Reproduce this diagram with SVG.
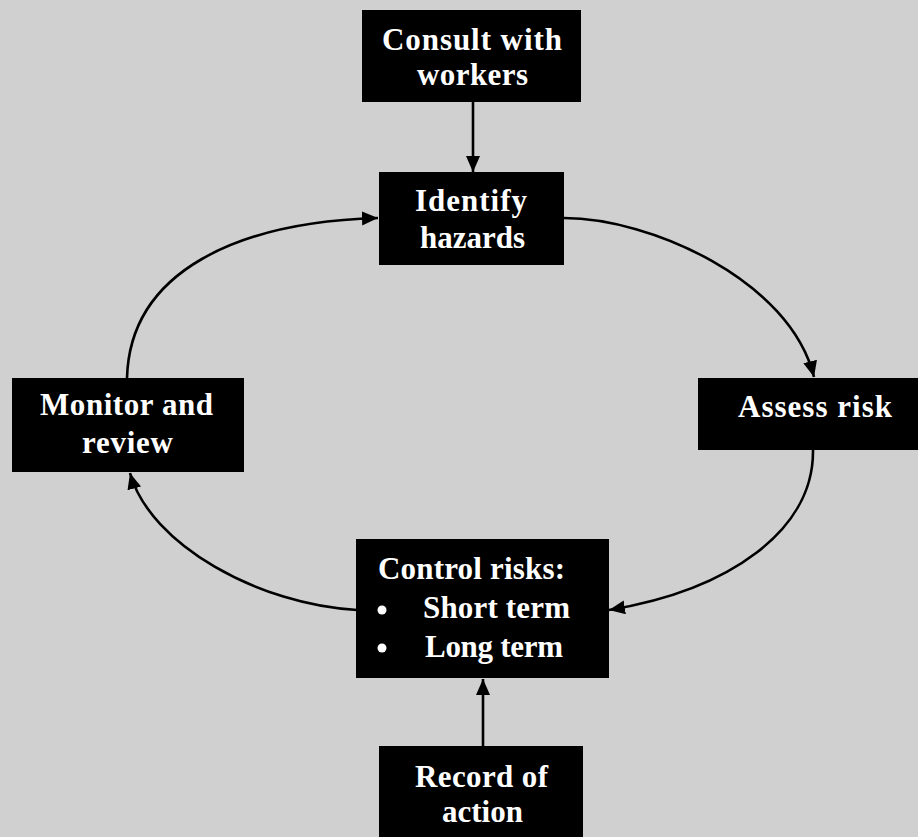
<svg xmlns="http://www.w3.org/2000/svg" width="918" height="837" viewBox="0 0 918 837">
  <style>
    .box { fill: #000; }
    .lbl { fill: #fff; font-family: "Liberation Serif", "DejaVu Serif", serif; font-weight: bold; font-size: 31px; }
    .conn { fill: none; stroke: #000; stroke-width: 2.6; marker-end: url(#ah); }
  </style>
  <defs>
    <marker id="ah" markerUnits="userSpaceOnUse" markerWidth="18" markerHeight="16" refX="16" refY="7" orient="auto">
      <path d="M0,0 L16,7 L0,14 z" fill="#000"/>
    </marker>
  </defs>
  <rect x="0" y="0" width="918" height="837" fill="#d0d0d0"/>

  <g id="connectors">
    <path class="conn" d="M473,102 L473,172"/>
    <path class="conn" d="M483,746 L483,679"/>
    <path class="conn" d="M564,218 C650,218 790,280 814,377"/>
    <path class="conn" d="M813,450 C814,530 730,590 609,610"/>
    <path class="conn" d="M357,610 C260,605 150,545 130,473"/>
    <path class="conn" d="M127,378 C130,270 240,222 378,218"/>
  </g>

  <g id="consult">
    <rect class="box" x="362" y="10" width="219" height="92"/>
    <text class="lbl" x="382" y="50" textLength="180" lengthAdjust="spacing">Consult with</text>
    <text class="lbl" x="417" y="85" textLength="111" lengthAdjust="spacing">workers</text>
  </g>

  <g id="identify">
    <rect class="box" x="379" y="172" width="185" height="93"/>
    <text class="lbl" x="415" y="211" textLength="112" lengthAdjust="spacing">Identify</text>
    <text class="lbl" x="420" y="248" textLength="105" lengthAdjust="spacing">hazards</text>
  </g>

  <g id="assess">
    <rect class="box" x="698" y="378" width="220" height="72"/>
    <text class="lbl" x="738" y="417" textLength="154" lengthAdjust="spacing">Assess risk</text>
  </g>

  <g id="control">
    <rect class="box" x="356" y="539" width="253" height="139"/>
    <text class="lbl" x="378" y="579" textLength="187" lengthAdjust="spacing">Control risks:</text>
    <circle cx="382" cy="610" r="4.5" fill="#fff"/>
    <text class="lbl" x="423" y="618" textLength="147" lengthAdjust="spacing">Short term</text>
    <circle cx="382" cy="648" r="4.5" fill="#fff"/>
    <text class="lbl" x="425" y="657" textLength="138" lengthAdjust="spacing">Long term</text>
  </g>

  <g id="record">
    <rect class="box" x="379" y="746" width="204" height="91"/>
    <text class="lbl" x="415" y="787" textLength="133" lengthAdjust="spacing">Record of</text>
    <text class="lbl" x="442" y="822" textLength="81" lengthAdjust="spacing">action</text>
  </g>

  <g id="monitor">
    <rect class="box" x="12" y="378" width="232" height="94"/>
    <text class="lbl" x="40" y="415" textLength="173" lengthAdjust="spacing">Monitor and</text>
    <text class="lbl" x="82" y="453" textLength="91" lengthAdjust="spacing">review</text>
  </g>
</svg>
